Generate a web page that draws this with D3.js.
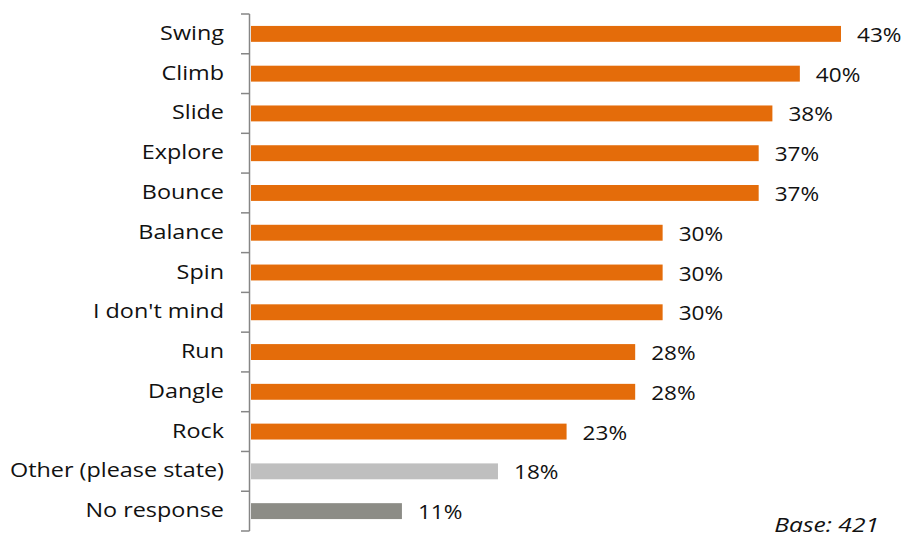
<!DOCTYPE html>
<html><head><meta charset="utf-8">
<script src="https://cdn.jsdelivr.net/npm/d3@7"></script>
<style>body{margin:0;background:#fff}svg{display:block}text{font-family:"Open Sans",sans-serif;fill:#111}</style>
</head><body><svg id="c" width="903" height="538"></svg>
<script>
const categories = ["Swing","Climb","Slide","Explore","Bounce","Balance","Spin","I don't mind","Run","Dangle","Rock","Other (please state)","No response"];
const values = [43,40,38,37,37,30,30,30,28,28,23,18,11];
const colors = ["#E46C0A","#E46C0A","#E46C0A","#E46C0A","#E46C0A","#E46C0A","#E46C0A","#E46C0A","#E46C0A","#E46C0A","#E46C0A","#BFBFBF","#8C8C86"];
const note = "Base: 421";

const svg = d3.select("#c");
const x = d3.scaleLinear().domain([0,43]).range([251,841]);
const y = d3.scaleBand().domain(categories).range([14,531]).paddingInner(0.6).paddingOuter(0.3);
const yb = d3.scaleBand().domain(categories).range([14,531]);
const sx = 1.17;

svg.selectAll("rect.bar").data(categories).join("rect").attr("class","bar")
  .attr("x",x(0)).attr("y",d=>y(d)).attr("height",y.bandwidth())
  .attr("width",(d,i)=>x(values[i])-x(0)).attr("fill",(d,i)=>colors[i]);

const ax = svg.append("g");
ax.append("line").attr("x1",249.5).attr("x2",249.5).attr("y1",14).attr("y2",531).attr("stroke","#868686").attr("stroke-width",1.5);
const tickPos = categories.map(c=>yb(c)).concat([531]);
ax.selectAll("line.t").data(tickPos).join("line").attr("class","t")
  .attr("x1",241).attr("x2",249.5).attr("y1",d=>d).attr("y2",d=>d).attr("stroke","#868686").attr("stroke-width",1.5);

svg.selectAll("text.cat").data(categories).join("text").attr("class","cat")
  .attr("transform",d=>`translate(224,${yb(d)+yb.bandwidth()/2-1}) scale(${sx},1)`).attr("dy","0.35em")
  .attr("text-anchor","end").attr("font-size",20).text(d=>d);

svg.selectAll("text.val").data(categories).join("text").attr("class","val")
  .attr("transform",(d,i)=>`translate(${x(values[i])+16},${yb(d)+yb.bandwidth()/2+1}) scale(1.13,1)`).attr("dy","0.35em")
  .attr("font-size",20).text((d,i)=>values[i]+"%");

svg.append("text").attr("transform","translate(879,532) scale(1.2,1)").attr("text-anchor","end")
  .attr("font-size",20.5).attr("font-style","italic").text(note);
</script></body></html>
